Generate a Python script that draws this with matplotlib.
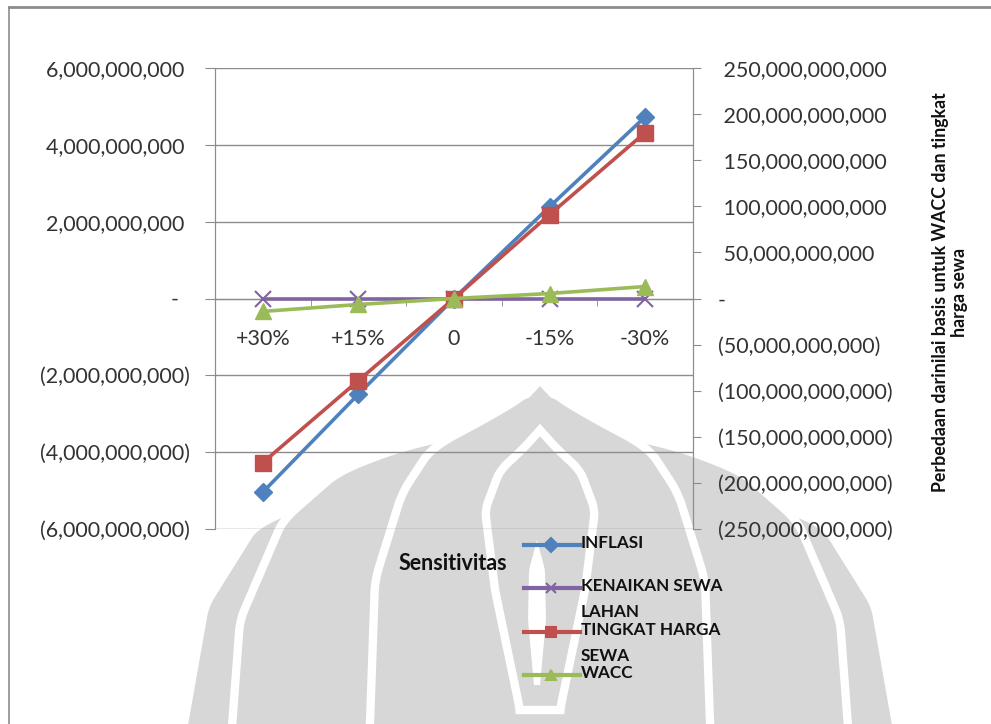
import matplotlib.pyplot as plt
import numpy as np
from matplotlib.patches import Polygon
from matplotlib.lines import Line2D
from matplotlib.transforms import Affine2D

plt.rcParams['font.family'] = ['Lato', 'DejaVu Sans']

categories = ['+30%', '+15%', '0', '-15%', '-30%']
inflasi = [-5.04e9, -2.49e9, 0, 2.39e9, 4.73e9]
kenaikan_sewa_lahan = [0, 0, 0, 0, 0]
tingkat_harga_sewa = [-178e9, -89e9, 0, 91e9, 180e9]
wacc = [-14e9, -6.5e9, 0, 5.4e9, 13e9]
series_names = ['INFLASI', 'KENAIKAN SEWA\nLAHAN', 'TINGKAT HARGA\nSEWA', 'WACC']

left_ticks = np.arange(-6e9, 6.1e9, 2e9)
right_ticks = np.arange(-250e9, 251e9, 50e9)

W, H = 991, 724


def fx(px):
    return px / W


def fy(py):
    return 1 - py / H


def acct(v):
    if v == 0:
        return '-  '
    if v < 0:
        return '({:,.0f})'.format(-v)
    return '{:,.0f} '.format(v)


def dome(cx, ytip, dys, hws, n=200):
    # symmetric outline in pixel coords (y down) from a half-width profile
    dy = np.linspace(0, dys[-1], n)
    raw = np.interp(dy, dys, hws)
    hw = np.convolve(np.pad(raw, 6, mode='edge'), np.ones(13) / 13, mode='valid')
    hw[:8] = raw[:8]
    y = ytip + dy
    left = np.column_stack([cx - hw, y])
    right = np.column_stack([cx + hw, y])[::-1]
    return np.vstack([left, right])


fig = plt.figure(figsize=(W / 100, H / 100), dpi=100)
pix = Affine2D().scale(1 / W, -1 / H).translate(0, 1) + fig.transFigure

# watermark logo (rough)
wm = '#d7d7d7'
layers = [
    (455, [0, 20, 70, 150, 320], [0, 170, 285, 335, 365]),
    (420, [0, 10, 23, 50, 100, 200, 360], [0, 60, 127, 200, 257, 300, 312]),
    (380, [0, 15, 43, 67, 113, 200, 400], [0, 14, 62, 108, 138, 165, 172]),
    (430, [0, 20, 40, 80, 160, 280], [0, 18, 40, 55, 45, 20]),
]
for ytip, dys, hws in layers:
    fig.patches.append(Polygon(dome(540, ytip, dys, hws), closed=True, transform=pix,
                               facecolor=wm, edgecolor='white', lw=6, zorder=-10))
fig.patches.append(Polygon(dome(537, 540, [0, 30, 80, 145], [0, 8, 9, 3]), closed=True,
                           transform=pix, facecolor='white', edgecolor='none', zorder=-10))

# frame
fig.add_artist(Line2D([fx(9), 1], [fy(7), fy(7)], transform=fig.transFigure, color='#8c8c8c', lw=2))
fig.add_artist(Line2D([fx(9), fx(9)], [fy(7), 0], transform=fig.transFigure, color='#8c8c8c', lw=1.2))

ax = fig.add_axes([fx(215), fy(529), (693 - 215) / W, (529 - 68) / H])
ax.patch.set_alpha(0)
ax2 = ax.twinx()
ax2.patch.set_visible(False)

x = np.arange(len(categories))
grid_c = '#8c8c8c'
colors = ['#4F81BD', '#8064A2', '#C0504D', '#9BBB59']
markers = ['D', 'x', 's', '^']

ax.set_ylim(-6e9, 6e9)
ax.set_yticks(left_ticks)
ax.set_yticklabels([acct(v) for v in left_ticks])
ax.yaxis.grid(True, color=grid_c, lw=1)
ax.set_axisbelow(True)
ax.set_xlim(-0.5, len(categories) - 0.5)

ax.plot(x, inflasi, color=colors[0], lw=2.6, marker='D', ms=9, zorder=3)
ax.plot(x, kenaikan_sewa_lahan, color=colors[1], lw=2.6, marker='x', ms=11, mew=1.5, zorder=3)

ax2.set_ylim(-250e9, 250e9)
ax2.set_yticks(right_ticks)
ax2.set_yticklabels([(' ' + acct(v).rstrip()) if v > 0 else acct(v).rstrip() for v in right_ticks])
ax2.plot(x, tingkat_harga_sewa, color=colors[2], lw=2.6, marker='s', ms=11, zorder=3)
ax2.plot(x, wacc, color=colors[3], lw=2.6, marker='^', ms=11, zorder=4)

for a in (ax, ax2):
    a.spines['top'].set_visible(False)
    a.spines['left'].set_color(grid_c)
    a.spines['right'].set_color(grid_c)
    a.spines['bottom'].set_visible(False)

ax.spines['bottom'].set_visible(True)
ax.spines['bottom'].set_position(('data', 0))
ax.spines['bottom'].set_color(grid_c)
ax.set_xticks(x)
ax.set_xticklabels(categories)
ax.set_xticks(np.arange(-0.5, len(categories), 1), minor=True)
ax.tick_params(axis='x', which='major', length=0, pad=22, labelsize=15.5, colors='#333333')
ax.tick_params(axis='x', which='minor', length=5, color=grid_c, direction='out')
ax.tick_params(axis='y', length=7, color=grid_c, labelsize=15.5, labelcolor='#333333', pad=11)
ax2.tick_params(axis='y', length=6, color=grid_c, labelsize=15.5, labelcolor='#333333', pad=12)

fig.text(fx(453), fy(563), 'Sensitivitas', ha='center', va='center', fontsize=15.5,
         fontweight='bold', color='#111111')
fig.text(fx(950), fy(292), 'Perbedaan darinilai basis untuk WACC dan tingkat\nharga sewa',
         rotation=90, ha='center', va='center', fontsize=12.8, fontweight='bold',
         color='#111111', linespacing=1.15, multialignment='center')

# legend drawn by hand: handle aligned with first text line
leg_y = [545, 588, 632, 675]
for name, c, m, yy in zip(series_names, colors, markers, leg_y):
    fig.add_artist(Line2D([fx(524), fx(551), fx(580)], [fy(yy)] * 3, transform=fig.transFigure,
                          color=c, lw=3, marker=m, markevery=[1], ms=7, mew=1.5))
    fig.text(fx(581), fy(yy - 10), name, ha='left', va='top', fontsize=12.3, fontweight='bold',
             color='#111111', linespacing=1.75)

fig.savefig('out.png', dpi=100)
